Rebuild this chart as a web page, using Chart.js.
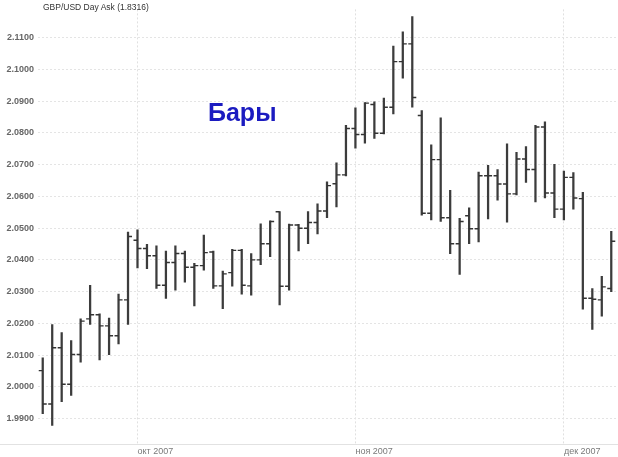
<!DOCTYPE html>
<html>
<head>
<meta charset="utf-8">
<script src="https://cdn.jsdelivr.net/npm/chart.js@4"></script>
<style>
  html, body { margin: 0; padding: 0; background: #fff; }
  #wrap { position: relative; width: 618px; height: 457px; overflow: hidden; }
  #c { position: absolute; left: 0; top: 0; }
  .title { position: absolute; left: 43px; top: 2px; font: 8.5px "Liberation Sans", Arial, sans-serif; color: #333; line-height: 10px; white-space: nowrap; }
  .note { position: absolute; left: 208px; top: 100px; font: bold 25px "Liberation Sans", Arial, sans-serif; color: #1b1bc0; line-height: 25px; white-space: nowrap; }
</style>
</head>
<body>
<div id="wrap">
  <canvas id="c" width="618" height="457"></canvas>
  <div class="title">GBP/USD Day Ask (1.8316)</div>
  <div class="note">Бары</div>
</div>
<script>
// ---- data ----
const categories = [
  '2007-09-17','2007-09-18','2007-09-19','2007-09-20','2007-09-21',
  '2007-09-24','2007-09-25','2007-09-26','2007-09-27','2007-09-28',
  '2007-10-01','2007-10-02','2007-10-03','2007-10-04','2007-10-05',
  '2007-10-08','2007-10-09','2007-10-10','2007-10-11','2007-10-12',
  '2007-10-15','2007-10-16','2007-10-17','2007-10-18','2007-10-19',
  '2007-10-22','2007-10-23','2007-10-24','2007-10-25','2007-10-26',
  '2007-10-29','2007-10-30','2007-10-31',
  '2007-11-01','2007-11-02',
  '2007-11-05','2007-11-06','2007-11-07','2007-11-08','2007-11-09',
  '2007-11-12','2007-11-13','2007-11-14','2007-11-15','2007-11-16',
  '2007-11-19','2007-11-20','2007-11-21','2007-11-22','2007-11-23',
  '2007-11-26','2007-11-27','2007-11-28','2007-11-29','2007-11-30',
  '2007-12-03','2007-12-04','2007-12-05','2007-12-06','2007-12-07',
  '2007-12-10'
];
const openVals = [
  2.0051,1.9946,2.0123,2.0008,2.0102, 2.0214,2.0227,2.0192,2.0161,2.0274,
  2.0462,2.0436,2.0413,2.0320,2.0392, 2.0420,2.0377,2.0382,2.0425,2.0318,
  2.0360,2.0430,2.0318,2.0400,2.0451, 2.0552,2.0317,2.0510,2.0500,2.0518,
  2.0554,2.0640,2.0668,
  2.0814,2.0795, 2.0890,2.0799,2.0881,2.1025,2.1081,
  2.0855,2.0547,2.0716,2.0533,2.0451, 2.0539,2.0498,2.0665,2.0665,2.0639,
  2.0608,2.0718,2.0685,2.0819,2.0611,
  2.0560,2.0660,2.0593,2.0279,2.0274, 2.0310
];
const highVals = [
  2.0091,2.0196,2.0171,2.0146,2.0214, 2.0320,2.0230,2.0217,2.0292,2.0488,
  2.0495,2.0449,2.0444,2.0428,2.0444, 2.0428,2.0389,2.0478,2.0428,2.0365,
  2.0433,2.0433,2.0420,2.0514,2.0523, 2.0552,2.0513,2.0512,2.0552,2.0577,
  2.0646,2.0706,2.0824,
  2.0879,2.0896, 2.0898,2.0910,2.1074,2.1119,2.1167,
  2.0871,2.0763,2.0848,2.0619,2.0531, 2.0564,2.0677,2.0698,2.0685,2.0766,
  2.0739,2.0757,2.0824,2.0835,2.0701,
  2.0680,2.0675,2.0613,2.0310,2.0348, 2.0490
];
const lowVals = [
  1.9915,1.9878,1.9953,1.9973,2.0078, 2.0197,2.0085,2.0101,2.0135,2.0197,
  2.0375,2.0372,2.0310,2.0279,2.0305, 2.0330,2.0255,2.0368,2.0310,2.0246,
  2.0317,2.0292,2.0289,2.0385,2.0410, 2.0258,2.0305,2.0428,2.0451,2.0482,
  2.0533,2.0567,2.0665,
  2.0752,2.0768, 2.0783,2.0797,2.0860,2.0973,2.0881,
  2.0541,2.0526,2.0521,2.0420,2.0354, 2.0451,2.0457,2.0529,2.0588,2.0519,
  2.0605,2.0644,2.0583,2.0595,2.0533,
  2.0526,2.0560,2.0245,2.0181,2.0223, 2.0300
];
const closeVals = [
  1.9946,2.0123,2.0008,2.0102,2.0207, 2.0227,2.0192,2.0161,2.0274,2.0474,
  2.0436,2.0413,2.0320,2.0392,2.0420, 2.0377,2.0382,2.0423,2.0318,2.0356,
  2.0430,2.0320,2.0400,2.0451,2.0521, 2.0317,2.0510,2.0500,2.0518,2.0554,
  2.0634,2.0668,2.0814,
  2.0795,2.0894, 2.0799,2.0881,2.1025,2.1081,2.0912,
  2.0547,2.0716,2.0533,2.0451,2.0521, 2.0498,2.0665,2.0665,2.0639,2.0608,
  2.0718,2.0685,2.0819,2.0611,2.0560,
  2.0660,2.0595,2.0279,2.0276,2.0315, 2.0459
];
const monthTickDates = ['2007-10-01','2007-11-01','2007-12-03'];
const monthTickLabels = ['окт 2007','ноя 2007','дек 2007'];
const yMin = 1.98198, yMax = 2.11895, yStep = 0.01;

// ---- chart ----
function monthLabel(i) {
  const k = monthTickDates.indexOf(categories[i]);
  return k >= 0 ? monthTickLabels[k] : '';
}

const ohlcTicks = {
  id: 'ohlcTicks',
  afterDatasetsDraw(chart) {
    const ctx = chart.ctx, xs = chart.scales.x, ys = chart.scales.y;
    ctx.save();
    ctx.strokeStyle = '#333';
    ctx.lineWidth = 1.4;
    ctx.beginPath();
    for (let i = 0; i < categories.length; i++) {
      const x = xs.getPixelForValue(i);
      const yo = ys.getPixelForValue(openVals[i]);
      const yc = ys.getPixelForValue(closeVals[i]);
      ctx.moveTo(x - 4, yo); ctx.lineTo(x, yo);
      ctx.moveTo(x, yc); ctx.lineTo(x + 4, yc);
    }
    ctx.stroke();
    ctx.restore();
  }
};

const bottomRule = {
  id: 'bottomRule',
  beforeDraw(chart) {
    const ctx = chart.ctx, b = chart.chartArea.bottom;
    ctx.save();
    ctx.strokeStyle = '#e2e2e2';
    ctx.lineWidth = 1;
    ctx.beginPath();
    ctx.moveTo(0, Math.round(b) + 0.5);
    ctx.lineTo(chart.width, Math.round(b) + 0.5);
    ctx.stroke();
    ctx.restore();
  }
};

new Chart(document.getElementById('c'), {
  type: 'bar',
  data: {
    labels: categories,
    datasets: [{
      data: lowVals.map((l, i) => [l, highVals[i]]),
      backgroundColor: '#3c3c3c',
      borderWidth: 0,
      barThickness: 1.6
    }]
  },
  options: {
    responsive: false,
    animation: false,
    layout: { padding: { left: 0, right: 2, top: 0, bottom: 0 } },
    plugins: { legend: { display: false }, tooltip: { enabled: false }, title: { display: false } },
    scales: {
      x: {
        type: 'category',
        offset: true,
        afterFit(s) { s.height = 13; },
        grid: {
          offset: false,
          drawTicks: false,
          color: (c) => (c.index !== undefined && monthLabel(c.index)) ? '#e0e0e0' : 'rgba(0,0,0,0)',
          lineWidth: 1
        },
        border: { display: false, dash: [2, 2] },
        ticks: {
          autoSkip: false,
          maxRotation: 0,
          minRotation: 0,
          align: 'start',
          padding: 2,
          color: '#7a7a7a',
          font: { family: 'Liberation Sans', size: 9 },
          callback: (v, i) => monthLabel(i)
        }
      },
      y: {
        type: 'linear',
        min: yMin,
        max: yMax,
        afterFit(s) { s.width = 38; },
        grid: { color: '#e4e4e4', drawTicks: false, lineWidth: 1 },
        border: { display: false, dash: [2, 2] },
        ticks: {
          stepSize: yStep,
          includeBounds: false,
          maxTicksLimit: 30,
          padding: 4,
          color: '#666',
          font: { family: 'Liberation Sans', size: 9, weight: 'bold' },
          callback: (v) => Number(v).toFixed(4)
        }
      }
    }
  },
  plugins: [bottomRule, ohlcTicks]
});
</script>
</body>
</html>
